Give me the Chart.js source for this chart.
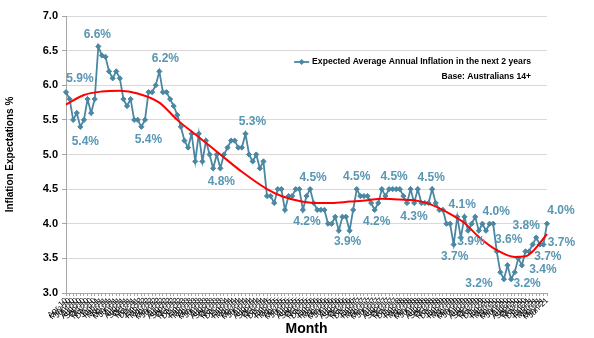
<!DOCTYPE html>
<html>
<head>
<meta charset="utf-8">
<script src="https://cdn.jsdelivr.net/npm/chart.js@4.4.0/dist/chart.umd.min.js"></script>
<style>
  html, body { margin: 0; padding: 0; background: #fff; }
  #wrap { width: 594px; height: 338px; position: relative; }
</style>
</head>
<body>
<div id="wrap"><canvas id="inflChart"></canvas></div>
<script>
// Month labels, Apr-10 .. Jun-21
const months = [
  'Apr-10','May-10','Jun-10','Jul-10','Aug-10','Sep-10','Oct-10','Nov-10','Dec-10',
  'Jan-11','Feb-11','Mar-11','Apr-11','May-11','Jun-11','Jul-11','Aug-11','Sep-11','Oct-11','Nov-11','Dec-11',
  'Jan-12','Feb-12','Mar-12','Apr-12','May-12','Jun-12','Jul-12','Aug-12','Sep-12','Oct-12','Nov-12','Dec-12',
  'Jan-13','Feb-13','Mar-13','Apr-13','May-13','Jun-13','Jul-13','Aug-13','Sep-13','Oct-13','Nov-13','Dec-13',
  'Jan-14','Feb-14','Mar-14','Apr-14','May-14','Jun-14','Jul-14','Aug-14','Sep-14','Oct-14','Nov-14','Dec-14',
  'Jan-15','Feb-15','Mar-15','Apr-15','May-15','Jun-15','Jul-15','Aug-15','Sep-15','Oct-15','Nov-15','Dec-15',
  'Jan-16','Feb-16','Mar-16','Apr-16','May-16','Jun-16','Jul-16','Aug-16','Sep-16','Oct-16','Nov-16','Dec-16',
  'Jan-17','Feb-17','Mar-17','Apr-17','May-17','Jun-17','Jul-17','Aug-17','Sep-17','Oct-17','Nov-17','Dec-17',
  'Jan-18','Feb-18','Mar-18','Apr-18','May-18','Jun-18','Jul-18','Aug-18','Sep-18','Oct-18','Nov-18','Dec-18',
  'Jan-19','Feb-19','Mar-19','Apr-19','May-19','Jun-19','Jul-19','Aug-19','Sep-19','Oct-19','Nov-19','Dec-19',
  'Jan-20','Feb-20','Mar-20','Apr-20','May-20','Jun-20','Jul-20','Aug-20','Sep-20','Oct-20','Nov-20','Dec-20',
  'Jan-21','Feb-21','Mar-21','Apr-21','May-21','Jun-21'
];

// Expected average annual inflation, next 2 years (%)
const expected = [
  5.9, 5.8, 5.5, 5.6, 5.4, 5.5, 5.8, 5.6, 5.8,
  6.56, 6.43, 6.41, 6.2, 6.1, 6.2, 6.1, 5.8, 5.7, 5.8, 5.5, 5.5,
  5.4, 5.5, 5.9, 5.9, 6.0, 6.2, 5.9, 5.9, 5.8, 5.7, 5.57, 5.4,
  5.2, 5.1, 5.3, 4.9, 5.3, 4.9, 5.2, 5.0, 4.8, 5.0, 4.8, 5.0,
  5.1, 5.2, 5.2, 5.1, 5.1, 5.3, 5.0, 4.9, 5.0, 4.8, 4.9, 4.4,
  4.4, 4.3, 4.5, 4.5, 4.2, 4.4, 4.4, 4.5, 4.5, 4.2, 4.4, 4.5,
  4.3, 4.2, 4.2, 4.2, 4.0, 4.0, 4.1, 3.9, 4.1, 4.1, 3.9, 4.2,
  4.5, 4.4, 4.4, 4.4, 4.3, 4.2, 4.3, 4.5, 4.4, 4.5, 4.5, 4.5,
  4.5, 4.4, 4.3, 4.5, 4.3, 4.5, 4.3, 4.3, 4.3, 4.5, 4.3, 4.2,
  4.2, 4.0, 4.0, 3.7, 4.1, 3.8, 4.1, 3.9, 4.0, 4.1, 3.9, 4.0,
  3.9, 4.0, 4.0, 3.6, 3.3, 3.2, 3.4, 3.2, 3.3, 3.5, 3.4, 3.6,
  3.6, 3.7, 3.8, 3.7, 3.7, 4.0
];

// Trend line at these month positions
const trendAt    = [0, 5, 10, 15, 20, 26, 31, 37, 43, 49, 56, 60, 65, 70, 74, 79, 84, 88, 93, 97, 101, 106, 111, 115, 120, 125, 128, 130, 134];
const trendValue = [5.72, 5.86, 5.91, 5.92, 5.88, 5.75, 5.50, 5.25, 5.00, 4.75, 4.50, 4.40, 4.33, 4.30, 4.30, 4.32, 4.34, 4.36, 4.35, 4.34, 4.29, 4.17, 4.01, 3.81, 3.62, 3.52, 3.53, 3.60, 3.85];

// Months that carry a value label
const labelledAt = [0, 9, 4, 21, 26, 50, 43, 68, 66, 79, 81, 86, 90, 95, 102, 108, 109, 112, 119, 120, 122, 124, 131, 127, 132, 133, 134];

const yTicks = [3.0, 3.5, 4.0, 4.5, 5.0, 5.5, 6.0, 6.5, 7.0];

const seriesName = 'Expected Average Annual Inflation in the next 2 years';
const baseNote = 'Base: Australians 14+';

const lineColor = '#4a87a3';
const labelColor = '#5896b2';

// label offsets from their point (px)
const labelOffset = {
  0: [14, -13], 9: [-1, -12], 4: [5, 15], 21: [7, 13], 26: [6, -13],
  50: [7, -12], 43: [1, 13], 68: [3, -11], 66: [4, 12], 79: [-2, 11],
  81: [0, -12], 86: [2, 12], 90: [5, -12], 95: [7, 14], 102: [-1, -11],
  108: [1, 12], 109: [5, -12], 112: [3, 11], 119: [3, -12], 120: [12, -12],
  122: [-25, 5], 124: [16, 5], 131: [-10, -12], 127: [21, 4], 132: [8, 12],
  133: [18, -2], 134: [14, -13]
};

const trendData = months.map(() => null);
trendAt.forEach((idx, k) => { trendData[idx] = trendValue[k]; });

const extras = {
  id: 'extras',
  afterDatasetsDraw(chart) {
    const ctx = chart.ctx;
    const meta = chart.getDatasetMeta(0);
    const area = chart.chartArea;
    ctx.save();
    // value labels
    ctx.font = 'bold 12px Arial';
    ctx.fillStyle = labelColor;
    ctx.textAlign = 'center';
    ctx.textBaseline = 'middle';
    labelledAt.forEach(idx => {
      const p = meta.data[idx];
      const off = labelOffset[idx] || [0, -12];
      ctx.fillText(expected[idx].toFixed(1) + '%', p.x + off[0], p.y + off[1]);
    });

    // legend inside plot
    ctx.font = 'bold 8.6px Arial';
    ctx.fillStyle = '#000';
    ctx.textAlign = 'right';
    const rx = area.right - 16;
    const ly = area.top + 46;
    ctx.fillText(seriesName, rx, ly);
    const tw = ctx.measureText(seriesName).width;
    const lx1 = rx - tw - 18, lx2 = rx - tw - 3;
    ctx.strokeStyle = lineColor;
    ctx.lineWidth = 1.8;
    ctx.beginPath();
    ctx.moveTo(lx1, ly);
    ctx.lineTo(lx2, ly);
    ctx.stroke();
    const cx = (lx1 + lx2) / 2;
    ctx.fillStyle = lineColor;
    ctx.beginPath();
    ctx.moveTo(cx, ly - 3); ctx.lineTo(cx + 3, ly); ctx.lineTo(cx, ly + 3); ctx.lineTo(cx - 3, ly);
    ctx.closePath();
    ctx.fill();
    ctx.fillStyle = '#000';
    ctx.fillText(baseNote, rx, ly + 15);
    ctx.restore();
  }
};

new Chart(document.getElementById('inflChart').getContext('2d'), {
  type: 'line',
  data: {
    labels: months,
    datasets: [
      {
        label: seriesName,
        data: expected,
        borderColor: lineColor,
        backgroundColor: lineColor,
        borderWidth: 1.8,
        pointStyle: 'rectRot',
        pointRadius: 2.6,
        pointBorderWidth: 1,
        tension: 0,
        order: 2
      },
      {
        label: 'Trend',
        data: trendData,
        borderColor: '#ff0000',
        borderWidth: 2,
        pointRadius: 0,
        spanGaps: true,
        cubicInterpolationMode: 'monotone',
        order: 1
      }
    ]
  },
  options: {
    responsive: true,
    maintainAspectRatio: false,
    animation: false,
    layout: { padding: { left: 0, right: 47, top: 16, bottom: 0 } },
    plugins: {
      legend: { display: false },
      tooltip: { enabled: false }
    },
    scales: {
      x: {
        offset: false,
        afterFit: s => { s.height = 45; },
        grid: { drawOnChartArea: false, tickLength: 3, color: '#a6a6a6' },
        border: { color: '#a6a6a6' },
        ticks: {
          autoSkip: false, maxRotation: 45, minRotation: 45, padding: 0,
          font: { family: 'Arial', size: 8 }, color: '#000'
        },
        title: {
          display: true, text: 'Month', color: '#000',
          font: { family: 'Arial', size: 14, weight: 'bold' },
          padding: { top: 0, bottom: 0 }
        }
      },
      y: {
        min: 3, max: 7,
        afterFit: s => { s.width = 66; },
        afterBuildTicks: s => { s.ticks = yTicks.map(v => ({ value: v })); },
        grid: { color: '#d9d9d9', tickLength: 4, tickColor: '#a6a6a6' },
        border: { color: '#a6a6a6' },
        ticks: {
          padding: 4, color: '#000',
          font: { family: 'Arial', size: 11, weight: 'bold' },
          callback: v => v.toFixed(1)
        },
        title: {
          display: true, text: 'Inflation Expectations %', color: '#000',
          font: { family: 'Arial', size: 10, weight: 'bold' },
          padding: { top: 4, bottom: 0 }
        }
      }
    }
  },
  plugins: [extras]
});
</script>
</body>
</html>
